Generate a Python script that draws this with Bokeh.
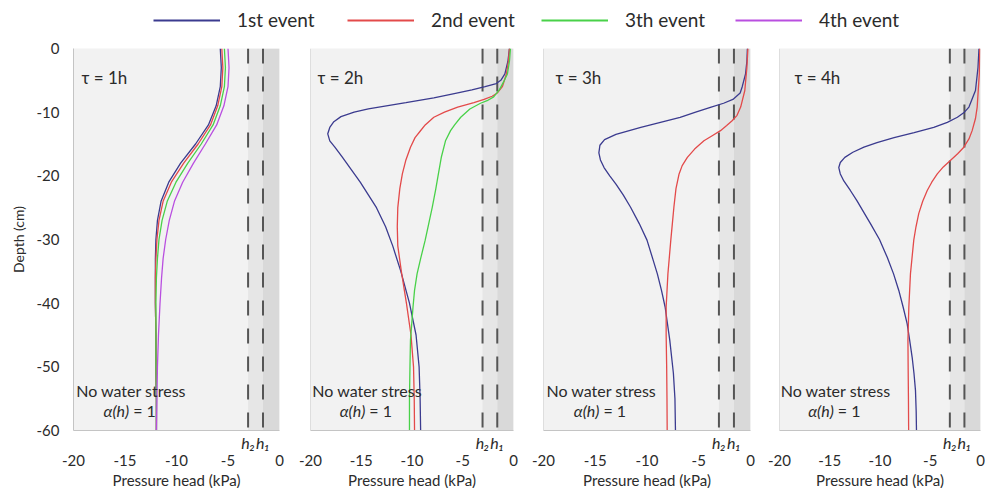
from bokeh.plotting import figure
from bokeh.layouts import row, column
from bokeh.models import (ColumnDataSource, BoxAnnotation, Span, Label, Legend,
                          LegendItem, FixedTicker, Range1d, LinearAxis,
                          NumeralTickFormatter)
from bokeh.embed import file_html
from bokeh.resources import INLINE

FONT = "Lato"
TEXT_COLOR = "#2b2b2b"

event_names = ["1st event", "2nd event", "3th event", "4th event"]
event_colors = ["#3b3b8f", "#e34a4a", "#49d149", "#b94fe0"]

# Feddes thresholds (kPa)
h2 = -3.05
h1 = -1.6
threshold_labels = {h2: "h\u2082", h1: "h\u2081"}

x_ticks = [-20, -15, -10, -5, 0]
y_ticks = [0, -10, -20, -30, -40, -50, -60]

# ---- tau = 1h : pressure head (kPa) against depth (cm)
depth_1h = [0, -3, -6, -9, -12, -15, -18, -21, -24, -27, -30, -33, -36, -40, -45, -50, -55, -60]
head_1h_e1 = [-5.75, -5.65, -5.75, -6.15, -6.9, -8.15, -9.6, -10.75, -11.5, -11.85, -12.0, -12.05, -12.05, -12.05, -12.0, -12.0, -11.95, -11.95]
head_1h_e2 = [-5.6, -5.5, -5.6, -6.0, -6.7, -7.9, -9.3, -10.5, -11.3, -11.7, -11.9, -12.0, -12.05, -12.05, -12.0, -12.0, -11.95, -11.95]
head_1h_e3 = [-5.35, -5.25, -5.35, -5.75, -6.45, -7.6, -8.9, -10.05, -10.9, -11.4, -11.7, -11.85, -11.95, -12.0, -12.0, -12.0, -11.95, -11.95]
head_1h_e4 = [-5.0, -4.9, -5.0, -5.4, -6.1, -7.2, -8.35, -9.4, -10.2, -10.7, -11.05, -11.3, -11.45, -11.6, -11.75, -11.85, -11.9, -11.95]

# ---- tau = 2h
depth_2h_e1 = [0, -2, -4, -5, -5.5, -6, -6.5, -7, -7.75, -8.5, -9.5, -10, -10.7, -11.5, -12.4, -13.4, -14.5, -15.5, -17, -19, -21, -23, -25, -28, -31, -35, -40, -45, -50, -55, -60]
head_2h_e1 = [-0.4, -0.55, -0.85, -1.25, -1.7, -2.8, -4.1, -5.6, -7.85, -10.6, -14.3, -15.7, -17.0, -17.7, -18.1, -18.3, -18.1, -17.6, -16.9, -16.0, -15.1, -14.3, -13.5, -12.6, -11.9, -11.1, -10.25, -9.6, -9.3, -9.2, -9.15]
depth_2h_e2 = [0, -2, -4, -6, -7, -7.5, -8, -8.5, -9.2, -10, -10.8, -12, -13, -14, -15.5, -17.5, -19.7, -22, -25, -28, -31, -35, -40, -45, -50, -55, -60]
head_2h_e2 = [-0.4, -0.5, -0.7, -1.1, -1.6, -2.1, -2.9, -3.9, -5.5, -6.8, -7.85, -8.7, -9.2, -9.7, -10.15, -10.6, -10.95, -11.2, -11.4, -11.45, -11.4, -11.05, -10.55, -10.1, -9.85, -9.78, -9.75]
depth_2h_e3 = [0, -2, -4, -5, -6.5, -7.6, -8.2, -8.6, -9.5, -10.8, -12, -12.9, -14.5, -17, -19.7, -22, -24.9, -27.5, -30.1, -33, -35.4, -38, -40.6, -45.8, -50, -55, -60]
head_2h_e3 = [-0.3, -0.4, -0.6, -0.9, -1.4, -1.95, -2.6, -3.25, -4.3, -5.2, -5.8, -6.2, -6.7, -7.1, -7.4, -7.65, -8.0, -8.35, -8.7, -9.15, -9.5, -9.75, -9.9, -10.15, -10.2, -10.25, -10.25]

# ---- tau = 3h
depth_3h_e1 = [0, -2, -4, -6, -7, -8, -8.6, -9.2, -10, -10.8, -11.6, -12.4, -13.5, -14.3, -15.2, -16.4, -17.5, -18.7, -20, -21.3, -23, -24.9, -27.5, -30.1, -33, -35.4, -38, -40.6, -45.8, -51, -55, -60]
head_3h_e1 = [-0.3, -0.35, -0.48, -0.8, -1.0, -1.7, -2.6, -3.8, -5.3, -6.8, -8.7, -10.6, -13.0, -14.1, -14.55, -14.65, -14.5, -14.15, -13.6, -13.0, -12.3, -11.6, -10.75, -10.0, -9.45, -9.0, -8.6, -8.25, -7.8, -7.45, -7.3, -7.25]
depth_3h_e2 = [0, -3, -6.6, -9.2, -10.5, -11.3, -12.1, -12.9, -13.7, -14.5, -15.8, -17.1, -18.4, -19.7, -22, -24.9, -27.5, -30.1, -35.4, -40.6, -45, -50, -55, -60]
head_3h_e2 = [-0.25, -0.35, -0.55, -0.95, -1.3, -1.75, -2.3, -2.9, -3.7, -4.5, -5.4, -6.1, -6.6, -6.9, -7.2, -7.4, -7.55, -7.7, -7.98, -8.15, -8.15, -8.1, -8.07, -8.05]

# ---- tau = 4h
depth_4h_e1 = [0, -3, -6.6, -9.2, -10, -10.8, -11.6, -12.4, -13.2, -14, -14.8, -15.5, -16.3, -17.1, -17.9, -18.7, -19.7, -20.8, -22.3, -23.9, -25.5, -27.5, -30, -32.8, -35.4, -38, -40.6, -43.2, -45.8, -48.5, -51, -53.7, -57, -60]
head_4h_e1 = [-0.15, -0.25, -0.5, -1.15, -1.6, -2.3, -3.3, -4.65, -6.6, -8.6, -10.3, -11.6, -12.7, -13.5, -13.95, -14.1, -13.95, -13.6, -12.95, -12.3, -11.7, -10.95, -10.05, -9.28, -8.65, -8.13, -7.7, -7.3, -7.05, -6.8, -6.62, -6.47, -6.4, -6.37]
depth_4h_e2 = [0, -4, -9.2, -11, -12.9, -14.2, -15.5, -16.5, -17.6, -18.6, -19.7, -21, -22.3, -24, -25.9, -28, -30.1, -35.4, -40.6, -45.8, -50, -55, -60]
head_4h_e2 = [-0.07, -0.12, -0.33, -0.5, -0.83, -1.15, -1.66, -2.25, -3.0, -3.7, -4.3, -4.85, -5.3, -5.75, -6.14, -6.42, -6.64, -6.97, -7.13, -7.22, -7.2, -7.17, -7.15]

panels = [
    ("\u03c4 = 1h", [(depth_1h, head_1h_e1, 0), (depth_1h, head_1h_e2, 1),
                     (depth_1h, head_1h_e3, 2), (depth_1h, head_1h_e4, 3)]),
    ("\u03c4 = 2h", [(depth_2h_e1, head_2h_e1, 0), (depth_2h_e2, head_2h_e2, 1),
                     (depth_2h_e3, head_2h_e3, 2)]),
    ("\u03c4 = 3h", [(depth_3h_e1, head_3h_e1, 0), (depth_3h_e2, head_3h_e2, 1)]),
    ("\u03c4 = 4h", [(depth_4h_e1, head_4h_e1, 0), (depth_4h_e2, head_4h_e2, 1)]),
]

# layout of the four panels (pixels)
frame_widths = [206, 203, 207, 201]
left_borders = [73, 15, 15, 15]
right_borders = [16, 15, 14, 5]
title_offsets = [8, 7, 12, 15]
FRAME_H = 382


def style_text_axis(ax, size):
    ax.major_tick_line_color = None
    ax.minor_tick_line_color = None
    ax.major_tick_out = 0
    ax.major_tick_in = 0
    ax.minor_tick_out = 0
    ax.minor_tick_in = 0
    ax.major_label_text_font = FONT
    ax.major_label_text_font_size = size
    ax.major_label_text_color = TEXT_COLOR


def make_panel(i, title, series):
    p = figure(frame_width=frame_widths[i], frame_height=FRAME_H,
               x_range=Range1d(-20, 0), y_range=Range1d(-60, 0),
               x_axis_location=None, y_axis_location=None,
               output_backend="svg", toolbar_location=None,
               min_border_left=left_borders[i], min_border_right=right_borders[i],
               min_border_top=8, min_border_bottom=58)
    p.background_fill_color = "#f2f2f2"
    p.border_fill_color = "white"
    p.outline_line_color = None
    p.grid.visible = False

    # stress bands between the thresholds and saturation
    p.add_layout(BoxAnnotation(left=h2, right=h1, fill_color="#e6e6e6", fill_alpha=1,
                               line_color=None, level="underlay"))
    p.add_layout(BoxAnnotation(left=h1, right=0, fill_color="#d9d9d9", fill_alpha=1,
                               line_color=None, level="underlay"))
    for h in (h2, h1):
        p.add_layout(Span(location=h, dimension="height", line_color="#555555",
                          line_width=2, line_dash="15 13", level="underlay"))

    for depth, head, k in series:
        src = ColumnDataSource(dict(head=head, depth=depth))
        p.line("head", "depth", source=src, line_color=event_colors[k], line_width=1.3)

    # axis next to the frame: threshold names h2, h1
    ha = LinearAxis(ticker=FixedTicker(ticks=[h2, h1]),
                    major_label_overrides=threshold_labels)
    style_text_axis(ha, "16px")
    ha.major_label_text_font_style = "italic"
    ha.major_label_standoff = 2
    ha.axis_line_color = "#c4c4c4"
    p.add_layout(ha, "below")

    # pressure-head scale below it
    xa = LinearAxis(ticker=FixedTicker(ticks=x_ticks),
                    formatter=NumeralTickFormatter(format="0"))
    style_text_axis(xa, "15px")
    xa.axis_line_color = None
    xa.major_label_standoff = 0
    xa.axis_label = "Pressure head (kPa)"
    xa.axis_label_standoff = 2
    xa.axis_label_text_font = FONT
    xa.axis_label_text_font_size = "15px"
    xa.axis_label_text_font_style = "normal"
    xa.axis_label_text_color = TEXT_COLOR
    p.add_layout(xa, "below")

    if i == 0:
        ya = LinearAxis(ticker=FixedTicker(ticks=y_ticks),
                        formatter=NumeralTickFormatter(format="0"))
        style_text_axis(ya, "15px")
        ya.axis_line_color = "#c4c4c4"
        ya.major_label_standoff = 14
        ya.axis_label = "Depth (cm)"
        ya.axis_label_standoff = 7
        ya.axis_label_text_font = FONT
        ya.axis_label_text_font_size = "14px"
        ya.axis_label_text_font_style = "normal"
        ya.axis_label_text_color = TEXT_COLOR
        p.add_layout(ya, "left")
    else:
        p.add_layout(Span(location=-20, dimension="height", line_color="#c4c4c4",
                          line_width=1))

    p.add_layout(Label(x=-20, y=0, x_offset=title_offsets[i], y_offset=-29, text=title,
                       text_font=FONT, text_font_size="17px", text_color=TEXT_COLOR,
                       text_baseline="middle"))
    p.add_layout(Label(x=-14.4, y=-60, y_offset=40, text="No water stress",
                       text_font=FONT, text_font_size="16px", text_color=TEXT_COLOR,
                       text_align="center", text_baseline="middle"))
    p.add_layout(Label(x=-14.4, y=-60, x_offset=-2, y_offset=20, text="\u03b1(h)",
                       text_font=FONT, text_font_size="16px", text_font_style="italic",
                       text_color=TEXT_COLOR, text_align="right", text_baseline="middle"))
    p.add_layout(Label(x=-14.4, y=-60, x_offset=2, y_offset=20, text="= 1",
                       text_font=FONT, text_font_size="16px", text_color=TEXT_COLOR,
                       text_align="left", text_baseline="middle"))
    return p


plots = [make_panel(i, t, s) for i, (t, s) in enumerate(panels)]

# shared legend strip across the top
leg = figure(width=985, height=40, x_range=(0, 1), y_range=(0, 1),
             output_backend="svg", toolbar_location=None,
             x_axis_location=None, y_axis_location=None, min_border=0)
leg.grid.visible = False
leg.outline_line_color = None
items = []
for name, color in zip(event_names, event_colors):
    r = leg.line(x=[float("nan")], y=[float("nan")], line_color=color, line_width=1.8)
    items.append(LegendItem(label=name, renderers=[r]))
legend = Legend(items=items, orientation="horizontal", location=(153, 9),
                glyph_width=67, glyph_height=20, label_standoff=17, label_width=100,
                spacing=10, padding=0, margin=0, border_line_color=None,
                background_fill_alpha=0, label_text_font=FONT,
                label_text_font_size="19px", label_text_color=TEXT_COLOR)
leg.add_layout(legend)

layout = column(leg, row(*plots))

open("out.html", "w").write(file_html(layout, INLINE))
